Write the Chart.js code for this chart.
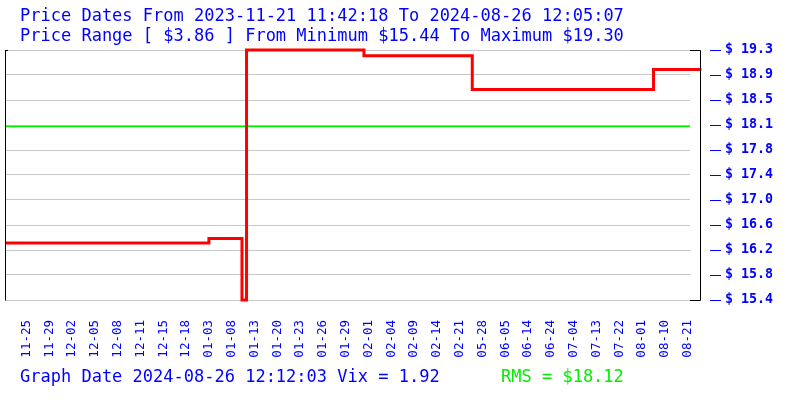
<!DOCTYPE html>
<html>
<head>
<meta charset="utf-8">
<script src="https://cdn.jsdelivr.net/npm/chart.js@4/dist/chart.umd.min.js"></script>
<style>
  body { margin: 0; background: #fff; }
  canvas { display: block; }
</style>
</head>
<body>
<canvas id="PriceChart" width="800" height="400"></canvas>
<script>
/*Textos do grafico*/
const titleLines = [
    'Price Dates From 2023-11-21 11:42:18 To 2024-08-26 12:05:07',
    'Price Range [ $3.86 ] From Minimum $15.44 To Maximum $19.30'
]
const footerText = 'Graph Date 2024-08-26 12:12:03 Vix = 1.92'
const rmsText = 'RMS = $18.12'

/*Serie de precos (indice da amostra, preco) - degraus*/
const priceX = [0, 89, 103.5, 105.5, 157, 204.5, 284, 305]
const priceY = [16.32, 16.39, 15.44, 19.30, 19.21, 18.69, 19.00, 19.00]

/*Linha RMS*/
const rmsX = [0, 300]
const rmsY = [18.12, 18.12]

/*Eixo x: posicao das datas e seus rotulos*/
const xTickPos = [9, 19, 29, 39, 49, 59, 69, 79, 89, 99, 109, 119, 129, 139, 149,
                  159, 169, 179, 189, 199, 209, 219, 229, 239, 249, 259, 269, 279, 289, 299]
const xLabels = ['11-25', '11-29', '12-02', '12-05', '12-08', '12-11', '12-15', '12-18',
                 '01-03', '01-08', '01-13', '01-20', '01-23', '01-26', '01-29', '02-01',
                 '02-04', '02-09', '02-14', '02-21', '05-28', '06-05', '06-14', '06-24',
                 '07-04', '07-13', '07-22', '08-01', '08-10', '08-21']

/*Eixo y: ticks e rotulos*/
const yTicks = [15.44, 15.826, 16.212, 16.598, 16.984, 17.37, 17.756, 18.142, 18.528, 18.914, 19.30]
const yTickLabels = ['$ 15.4', '$ 15.8', '$ 16.2', '$ 16.6', '$ 17.0', '$ 17.4',
                     '$ 17.8', '$ 18.1', '$ 18.5', '$ 18.9', '$ 19.3']

const BLUE = '#0000ff'
const GREEN = '#00ee00'

function toPoints(xs, ys) {
    const pts = []
    for (let i = 0; i < xs.length; i++) {
        pts.push({x: xs[i], y: ys[i]})
    }
    return pts
}

/*Textos, bordas pretas e tracos azuis do eixo y*/
const decor = {
    id: 'decor',
    afterDraw(chart) {
        const ctx = chart.ctx
        const area = chart.chartArea
        const yScale = chart.scales.y
        ctx.save()

        ctx.font = '17px "DejaVu Sans Mono"'
        ctx.textBaseline = 'alphabetic'
        ctx.fillStyle = BLUE
        ctx.fillText(titleLines[0], 20, 21)
        ctx.fillText(titleLines[1], 20, 41)
        ctx.fillText(footerText, 20, 382)
        ctx.fillStyle = GREEN
        ctx.fillText(rmsText, 501, 382)

        ctx.strokeStyle = '#000'
        ctx.lineWidth = 1
        ctx.beginPath()
        ctx.moveTo(5.5, area.top)
        ctx.lineTo(5.5, area.bottom + 0.5)
        ctx.moveTo(5, area.top + 0.5)
        ctx.lineTo(8, area.top + 0.5)
        ctx.moveTo(area.right, area.top + 0.5)
        ctx.lineTo(700.5, area.top + 0.5)
        ctx.lineTo(700.5, area.bottom + 0.5)
        ctx.lineTo(area.right, area.bottom + 0.5)
        ctx.stroke()

        ctx.strokeStyle = BLUE
        ctx.beginPath()
        for (const v of yTicks) {
            const y = Math.round(yScale.getPixelForValue(v)) + 0.5
            ctx.moveTo(710, y)
            ctx.lineTo(721, y)
        }
        ctx.stroke()
        ctx.restore()
    }
}

const ctx = document.getElementById('PriceChart').getContext('2d')
const PriceChart = new Chart(ctx, {
    type: 'line',
    data: {
        datasets: [{
            label: 'Price',
            data: toPoints(priceX, priceY),
            stepped: true,
            borderColor: '#ff0000',
            borderWidth: 3,
            borderJoinStyle: 'miter',
            pointRadius: 0,
            fill: false,
            clip: false
        }, {
            label: 'RMS',
            data: toPoints(rmsX, rmsY),
            borderColor: GREEN,
            borderWidth: 1.5,
            pointRadius: 0,
            fill: false
        }]
    },
    options: {
        responsive: false,
        animation: false,
        layout: {padding: {top: 50, left: 6, right: 0, bottom: 0}},
        plugins: {
            legend: {display: false},
            tooltip: {enabled: false},
            title: {display: false}
        },
        scales: {
            x: {
                type: 'linear',
                min: 0,
                max: 300,
                grid: {display: false, drawTicks: false},
                border: {display: false},
                afterBuildTicks(scale) {
                    scale.ticks = xTickPos.map(v => ({value: v}))
                },
                afterFit(scale) { scale.height = 100 },
                ticks: {
                    autoSkip: false,
                    minRotation: 90,
                    maxRotation: 90,
                    padding: 20,
                    color: BLUE,
                    font: {family: 'DejaVu Sans Mono', size: 12.5},
                    callback: (v, i) => xLabels[i]
                }
            },
            y: {
                type: 'linear',
                position: 'right',
                min: 15.44,
                max: 19.30,
                grid: {color: '#c8c8c8', lineWidth: 1, drawTicks: false},
                border: {display: false},
                afterBuildTicks(scale) {
                    scale.ticks = yTicks.map(v => ({value: v}))
                },
                afterFit(scale) { scale.width = 110 },
                ticks: {
                    padding: 35,
                    color: BLUE,
                    font: {family: 'DejaVu Sans Mono', size: 13.3, weight: 'bold', lineHeight: 1},
                    callback: (v, i) => yTickLabels[i]
                }
            }
        }
    },
    plugins: [decor]
})
</script>
</body>
</html>
